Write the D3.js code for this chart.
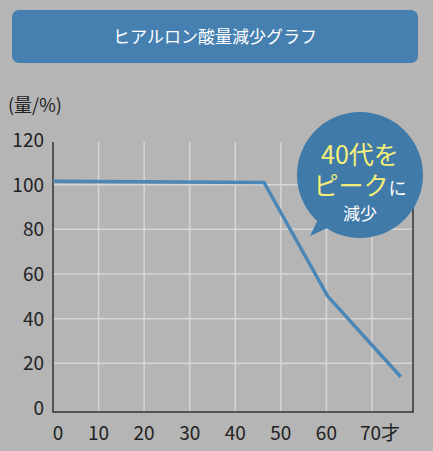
<!DOCTYPE html><html><head><meta charset="utf-8"><script src="https://cdn.jsdelivr.net/npm/d3@7"></script>
<style>body{margin:0;background:#b5b5b5}</style></head><body><svg id="c" width="433" height="451"></svg>
<script>
const ages=[0,46.3,60.3,76.3];
const amounts=[101.5,101,50,14];
const yTicks=[0,20,40,60,80,100,120];
const xTicks=[0,10,20,30,40,50,60,70];
const xLabels=["0","10","20","30","40","50","60","70才"];
const svg=d3.select("#c");
const f="'Noto Sans CJK JP','Noto Sans',sans-serif";
svg.append("rect").attr("width",433).attr("height",451).attr("fill","#b5b5b5");
svg.append("rect").attr("x",12).attr("y",10).attr("width",406).attr("height",53).attr("rx",7).attr("fill","#4580b0");
svg.append("text").attr("x",215).attr("y",43).attr("text-anchor","middle").attr("fill","#fff").attr("font-family",f).attr("font-size",17).text("ヒアルロン酸量減少グラフ");
const x=d3.scaleLinear().domain([0,79]).range([53,413]);
const y=d3.scaleLinear().domain([0,120]).range([408,140]);
const g=svg.append("g");
xTicks.slice(1).forEach(t=>g.append("line").attr("x1",x(t)).attr("x2",x(t)).attr("y1",142).attr("y2",412).attr("stroke","#d6d6d6").attr("stroke-width",1.5));
yTicks.slice(1,6).forEach(t=>g.append("line").attr("x1",53).attr("x2",413).attr("y1",y(t)).attr("y2",y(t)).attr("stroke","#d6d6d6").attr("stroke-width",1.5));
g.append("path").attr("d","M53,142V412H413V142").attr("fill","none").attr("stroke","#333").attr("stroke-width",1.5);
yTicks.forEach(t=>svg.append("text").attr("x",44).attr("y",y(t)+7).attr("text-anchor","end").attr("font-family",f).attr("font-size",19).attr("fill","#222").text(t));
xTicks.forEach((t,i)=>svg.append("text").attr("x",x(t)+(i==0?5:i==7?8:0)).attr("y",440).attr("text-anchor","middle").attr("font-family",f).attr("font-size",19).attr("fill","#222").text(xLabels[i]));
svg.append("text").attr("x",8).attr("y",112).attr("font-family",f).attr("font-size",18).attr("fill","#222").text("(量/%)");
svg.append("path").datum(ages.map((a,i)=>[a,amounts[i]])).attr("d",d3.line().x(d=>x(d[0])).y(d=>y(d[1]))).attr("fill","none").attr("stroke","#4a86b6").attr("stroke-width",3.5);
svg.append("path").attr("d","M325,205L310,236L345,220Z").attr("fill","#3f7aa8");
svg.append("circle").attr("cx",360).attr("cy",175).attr("r",63).attr("fill","#3f7aa8");
const t1=svg.append("text").attr("x",360).attr("y",164).attr("text-anchor","middle").attr("font-family",f).attr("fill","#f5ef7a").attr("font-size",25).text("40代を");
const t2=svg.append("text").attr("x",360).attr("y",195).attr("text-anchor","middle").attr("font-family",f).attr("font-size",25);
t2.append("tspan").attr("fill","#f5ef7a").text("ピーク");
t2.append("tspan").attr("fill","#fff").attr("font-size",18).text("に");
svg.append("text").attr("x",360).attr("y",220).attr("text-anchor","middle").attr("font-family",f).attr("fill","#fff").attr("font-size",17).text("減少");
</script></body></html>
